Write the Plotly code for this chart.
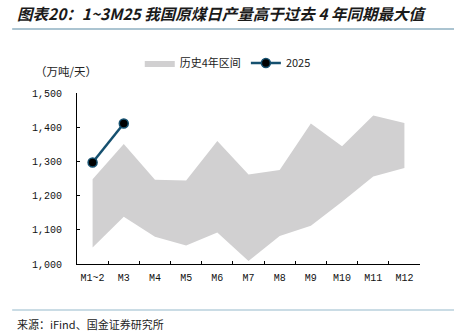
import plotly.graph_objects as go

months = ["M1~2", "M3", "M4", "M5", "M6", "M7", "M8", "M9", "M10", "M11", "M12"]
hist_max = [1248, 1351, 1246, 1244, 1360, 1262, 1275, 1411, 1344, 1434, 1412]
hist_min = [1048, 1138, 1080, 1054, 1092, 1009, 1082, 1112, 1182, 1256, 1281]
y2025_months = ["M1~2", "M3"]
y2025 = [1297, 1411]
ytick_vals = [1000, 1100, 1200, 1300, 1400, 1500]
ytick_text = ["1,000", "1,100", "1,200", "1,300", "1,400", "1,500"]

band_color = "#d1d0d1"
line_color = "#15506f"
mono = "Liberation Mono, DejaVu Sans Mono, monospace"
cjk = "Noto Sans CJK SC, sans-serif"

fig = go.Figure()
fig.add_trace(go.Scatter(x=months, y=hist_min, mode="lines", line=dict(width=0, color=band_color),
                         showlegend=False, hoverinfo="skip"))
fig.add_trace(go.Scatter(x=months, y=hist_max, mode="lines", line=dict(width=0, color=band_color),
                         fill="tonexty", fillcolor=band_color, name="历史4年区间"))
fig.add_trace(go.Scatter(x=y2025_months, y=y2025, mode="lines+markers", name="2025",
                         line=dict(color=line_color, width=2.5),
                         marker=dict(color="#000000", size=9, line=dict(color=line_color, width=1.5))))

fig.update_layout(
    width=454, height=334,
    margin=dict(l=77, r=34, t=93, b=70),
    paper_bgcolor="white", plot_bgcolor="white",
    showlegend=True,
    legend=dict(orientation="h", x=0.183, xanchor="left", y=1.175, yanchor="middle",
                traceorder="normal",
                font=dict(family=cjk, size=11, color="#222"), itemwidth=30,
                bgcolor="rgba(0,0,0,0)"),
    xaxis=dict(type="category", categoryorder="array", categoryarray=months,
               range=[-0.5, len(months) - 0.5],
               showline=True, linecolor="#000", linewidth=1.2, showgrid=False,
               ticks="inside", ticklen=3, tickcolor="#000", tickson="boundaries",
               tickangle=0,
               tickfont=dict(family=mono, size=10, color="#111"), ticklabelstandoff=4),
    yaxis=dict(range=[1000, 1500], tickvals=ytick_vals, ticktext=ytick_text,
               showline=True, linecolor="#000", linewidth=1.2, showgrid=False, zeroline=False,
               ticks="inside", ticklen=3, tickcolor="#000",
               tickfont=dict(family=mono, size=10, color="#111"), ticklabelstandoff=12),
    annotations=[
        dict(text="<b><i>图表20：1~3M25 我国原煤日产量高于过去 4 年同期最大值</i></b>",
             xref="paper", yref="paper", x=-0.18, xanchor="left", y=1.468, yanchor="middle",
             showarrow=False, font=dict(family=cjk, size=15.5, color="#1a1a1a")),
        dict(text="（万吨/天）", xref="paper", yref="paper", x=-0.128, xanchor="left", y=1.129,
             yanchor="middle", showarrow=False, font=dict(family=cjk, size=11.5, color="#222")),
        dict(text="来源：iFind、国金证券研究所", xref="paper", yref="paper", x=-0.18, xanchor="left",
             y=-0.351, yanchor="middle", showarrow=False,
             font=dict(family=cjk, size=11, color="#222")),
    ],
    shapes=[
        dict(type="line", xref="paper", yref="paper", x0=-0.189, x1=1.1, y0=1.374, y1=1.374,
             line=dict(color="#8fb1c2", width=1.5)),
        dict(type="line", xref="paper", yref="paper", x0=-0.189, x1=1.1, y0=-0.269, y1=-0.269,
             line=dict(color="#b9d0dc", width=1.5)),
    ],
)
fig.write_html("out.html")
